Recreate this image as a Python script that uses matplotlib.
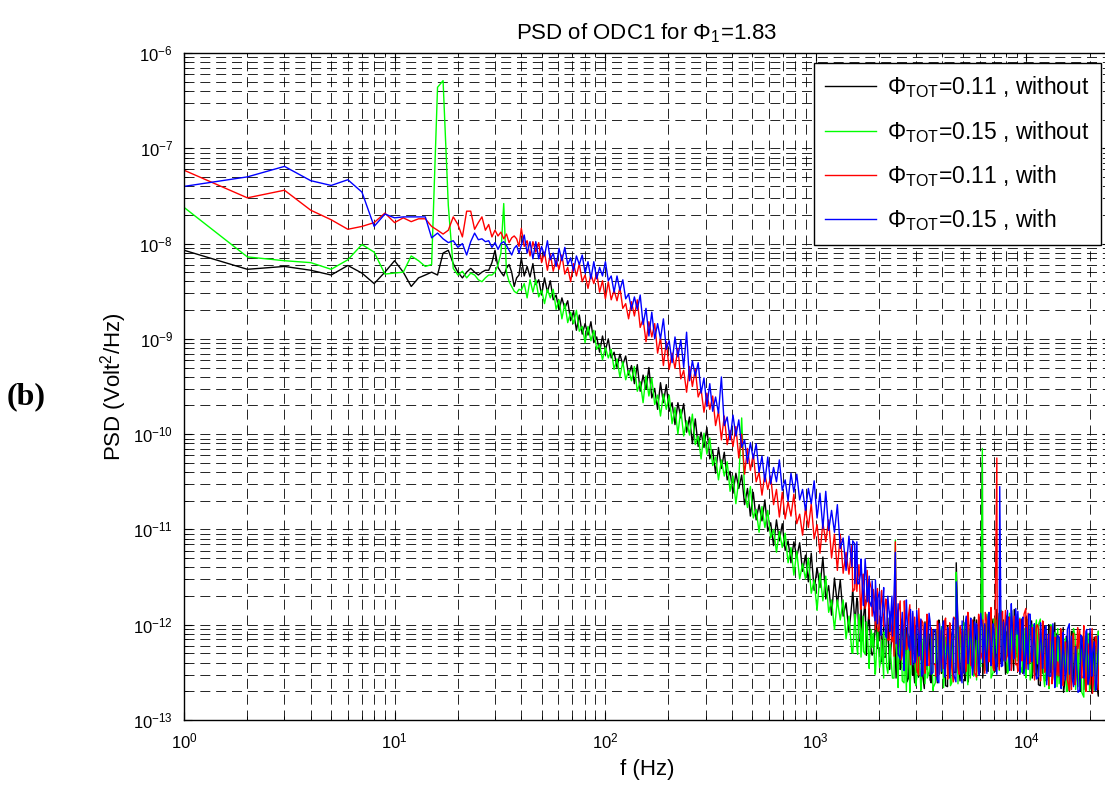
import numpy as np
import matplotlib
matplotlib.use('Agg')
import matplotlib.pyplot as plt
from matplotlib.ticker import LogLocator, NullFormatter

plt.rcParams['font.family'] = ['Liberation Sans', 'DejaVu Sans']
plt.rcParams['mathtext.fontset'] = 'custom'
plt.rcParams['mathtext.rm'] = 'Liberation Sans'
plt.rcParams['mathtext.it'] = 'Liberation Sans:italic'
plt.rcParams['mathtext.bf'] = 'Liberation Sans:bold'

# frequency axis: 1 Hz bins up to 39 Hz, a decimated log grid up to 22 kHz,
# and a second, denser set of bins for the noise floor above 1.5 kHz
f_low = np.arange(1, 40)
f_high = np.geomspace(40, 22000, 200)
f_band = np.geomspace(1500, 22000, 120)

# log10 of PSD (Volt^2/Hz)
black_low = [-8.07, -8.27, -8.24, -8.28, -8.33, -8.23, -8.31, -8.42, -8.30, -8.18,
             -8.30, -8.45, -8.36, -8.33, -8.30, -8.33, -8.10, -8.07, -8.21, -8.30,
             -8.36, -8.30, -8.26, -8.30, -8.33, -8.30, -8.28, -8.28, -8.20, -8.07,
             -8.25, -8.30, -8.34, -8.26, -8.22, -8.30, -8.45, -8.36, -8.33]
green_low = [-7.62, -8.14, -8.18, -8.20, -8.27, -8.17, -8.01, -8.09, -8.32, -8.31,
             -8.30, -8.13, -8.18, -8.24, -8.22, -6.36, -6.29, -7.60, -8.26, -8.33,
             -8.29, -8.36, -8.31, -8.33, -8.38, -8.40, -8.36, -8.33, -8.33, -8.30,
             -8.22, -8.10, -7.58, -8.30, -8.40, -8.45, -8.50, -8.52, -8.48]
red_low = [-7.23, -7.52, -7.44, -7.65, -7.75, -7.85, -7.82, -7.78, -7.68, -7.78,
           -7.73, -7.77, -7.74, -7.74, -7.82, -7.86, -7.90, -7.86, -7.72, -7.80,
           -7.93, -7.66, -7.66, -7.85, -7.78, -7.72, -7.86, -7.80, -7.93, -7.86,
           -7.92, -7.88, -7.95, -7.90, -7.99, -7.94, -7.92, -7.95, -8.03]
blue_low = [-7.40, -7.30, -7.19, -7.34, -7.39, -7.33, -7.46, -7.82, -7.69, -7.73,
            -7.72, -7.72, -7.72, -7.72, -7.94, -7.89, -7.95, -7.99, -7.97, -8.04,
            -8.00, -8.12, -7.98, -7.89, -7.96, -7.95, -7.98, -7.97, -8.04, -7.99,
            -8.06, -8.00, -7.98, -8.02, -8.07, -8.12, -8.05, -8.02, -8.10]

black_high = [
    -8.15, -8.34, -8.24, -8.35, -8.21, -8.43, -8.38, -8.54, -8.36, -8.51,
    -8.39, -8.59, -8.54, -8.70, -8.57, -8.68, -8.60, -8.81, -8.71, -8.91,
    -8.75, -8.95, -8.84, -8.96, -8.82, -9.04, -8.98, -9.14, -8.97, -9.12,
    -9.00, -9.20, -9.14, -9.30, -9.16, -9.27, -9.18, -9.38, -9.28, -9.47,
    -9.27, -9.55, -9.38, -9.53, -9.30, -9.62, -9.52, -9.74, -9.46, -9.67,
    -9.48, -9.76, -9.67, -9.90, -9.67, -9.83, -9.68, -9.98, -9.82, -10.10,
    -9.84, -10.13, -9.98, -10.14, -9.93, -10.26, -10.17, -10.41, -10.14, -10.36,
    -10.19, -10.48, -10.39, -10.62, -10.41, -10.57, -10.43, -10.74, -10.57, -10.86,
    -10.61, -10.90, -10.74, -10.91, -10.69, -11.02, -10.93, -11.17, -10.90, -11.12,
    -10.94, -11.22, -11.12, -11.35, -11.13, -11.29, -11.14, -11.44, -11.27, -11.55,
    -11.25, -11.64, -11.40, -11.61, -11.29, -11.73, -11.59, -11.90, -11.51, -11.79,
    -11.53, -11.91, -11.77, -12.08, -11.77, -11.98, -11.76, -12.17, -11.93, -12.32,
    -11.95, -12.32, -12.06, -12.25, -11.92, -12.34, -12.18, -12.47, -12.06, -12.33,
    -11.96, -12.45, -12.21, -12.60, -12.12, -12.37, -12.02, -12.55, -12.17, -12.67,
    -12.09, -12.58, -12.20, -12.44, -11.95, -12.51, -12.27, -12.65, -12.06, -12.41,
    -11.35, -12.47, -12.21, -12.59, -12.09, -12.33, -11.97, -12.49, -12.10, -10.30,
    -12.01, -12.49, -12.10, -12.34, -11.84, -12.40, -12.14, -12.52, -11.92, -12.26,
    -11.84, -12.34, -12.11, -12.51, -12.04, -12.30, -11.96, -12.50, -12.13, -12.64,
    -12.09, -12.59, -12.21, -12.46, -11.98, -12.55, -12.31, -12.71, -12.12, -12.48,
    -12.07, -12.56, -12.31, -12.70, -12.21, -12.46, -12.11, -12.64, -12.26, -12.75]

green_high = [
    -8.49, -8.42, -8.57, -8.38, -8.51, -8.38, -8.56, -8.49, -8.63, -8.48,
    -8.57, -8.48, -8.69, -8.59, -8.79, -8.63, -8.83, -8.72, -8.84, -8.70,
    -8.92, -8.87, -9.04, -8.87, -9.02, -8.91, -9.11, -9.06, -9.22, -9.09,
    -9.20, -9.11, -9.32, -9.21, -9.40, -9.24, -9.43, -9.33, -9.44, -9.29,
    -9.55, -9.45, -9.67, -9.39, -9.60, -9.41, -9.69, -9.59, -9.81, -9.58,
    -9.74, -9.59, -9.89, -9.72, -10.00, -9.74, -10.02, -9.86, -10.01, -9.79,
    -10.11, -10.02, -10.26, -9.99, -10.21, -10.04, -10.33, -10.24, -10.48, -10.27,
    -10.44, -10.29, -10.60, -10.44, -10.73, -10.48, -9.83, -10.61, -10.77, -10.55,
    -10.88, -10.79, -11.03, -10.76, -10.98, -10.80, -11.09, -11.00, -11.24, -11.02,
    -11.19, -11.04, -11.35, -11.19, -11.48, -11.23, -11.52, -11.36, -11.52, -11.30,
    -11.67, -11.53, -11.85, -11.46, -11.75, -11.49, -11.87, -11.74, -12.05, -11.74,
    -11.95, -11.74, -12.15, -11.91, -12.29, -11.93, -12.31, -12.07, -12.28, -11.97,
    -12.40, -12.24, -12.52, -12.11, -12.37, -12.08, -12.44, -12.28, -12.56, -11.11,
    -12.43, -12.08, -12.61, -12.22, -12.71, -12.15, -12.64, -12.26, -12.50, -12.01,
    -12.56, -12.31, -12.69, -12.10, -12.44, -12.02, -12.51, -12.26, -12.64, -12.15,
    -11.45, -12.03, -12.55, -12.15, -12.63, -12.06, -12.54, -12.15, -12.38, -10.15,
    -12.43, -12.18, -12.56, -11.95, -12.30, -11.87, -12.35, -12.10, -12.48, -11.98,
    -12.22, -11.89, -12.43, -12.06, -12.56, -12.02, -12.52, -12.15, -12.41, -11.94,
    -12.51, -12.28, -12.67, -12.09, -12.45, -12.04, -12.54, -12.30, -12.70, -12.22,
    -12.47, -12.12, -12.65, -12.27, -12.76, -12.20, -12.69, -12.31, -12.56, -12.07]

red_high = [
    -7.84, -8.03, -7.97, -8.13, -7.98, -8.09, -7.99, -8.20, -8.09, -8.28,
    -8.11, -8.29, -8.17, -8.27, -8.12, -8.32, -8.25, -8.40, -8.21, -8.34,
    -8.21, -8.40, -8.33, -8.47, -8.32, -8.42, -8.31, -8.51, -8.39, -8.58,
    -8.40, -8.59, -8.49, -8.60, -8.46, -8.68, -8.63, -8.79, -8.61, -8.76,
    -8.59, -8.88, -8.79, -9.03, -8.82, -8.98, -8.84, -9.15, -8.99, -9.28,
    -9.03, -9.32, -9.15, -9.31, -9.10, -9.42, -9.33, -9.56, -9.29, -9.50,
    -9.32, -9.61, -9.53, -9.77, -9.57, -9.74, -9.60, -9.91, -9.76, -10.06,
    -9.81, -10.11, -9.96, -10.13, -9.92, -10.25, -10.00, -10.42, -10.15, -10.38,
    -10.21, -10.50, -10.40, -10.64, -10.42, -10.58, -10.44, -10.74, -10.58, -10.87,
    -10.61, -10.89, -10.71, -10.86, -10.63, -10.94, -10.84, -11.06, -10.78, -10.98,
    -10.73, -11.10, -10.95, -11.25, -10.93, -11.13, -10.90, -11.30, -11.05, -11.43,
    -11.05, -11.46, -11.24, -11.47, -11.17, -11.63, -11.51, -11.84, -11.47, -11.77,
    -11.53, -11.91, -11.77, -12.07, -11.76, -11.97, -11.75, -12.16, -11.91, -11.13,
    -11.87, -12.37, -12.00, -12.26, -11.79, -12.36, -12.13, -12.53, -11.95, -12.31,
    -11.91, -12.40, -12.16, -12.54, -12.06, -12.31, -11.96, -12.49, -12.10, -12.60,
    -12.04, -12.52, -12.13, -12.37, -11.87, -12.43, -12.17, -12.55, -11.95, -12.29,
    -11.87, -12.35, -12.10, -12.48, -10.25, -12.22, -11.86, -12.38, -11.99, -12.48,
    -11.91, -12.42, -12.05, -12.31, -11.83, -12.41, -12.18, -12.58, -12.00, -12.37,
    -11.97, -12.46, -12.22, -12.62, -12.13, -12.39, -12.04, -12.57, -12.20, -12.69,
    -12.14, -12.63, -12.25, -12.50, -12.01, -12.58, -12.33, -12.72, -12.13, -12.48]

blue_high = [
    -8.02, -7.91, -8.10, -7.98, -8.16, -7.98, -8.16, -8.03, -8.13, -7.97,
    -8.17, -8.10, -8.24, -8.05, -8.18, -8.04, -8.22, -8.15, -8.29, -8.13,
    -8.22, -8.12, -8.31, -8.19, -8.37, -8.19, -8.37, -8.25, -8.34, -8.19,
    -8.39, -8.34, -8.51, -8.34, -8.49, -8.38, -8.58, -8.53, -8.69, -8.56,
    -8.69, -8.54, -8.85, -8.68, -8.97, -8.72, -9.00, -8.84, -9.00, -8.79,
    -9.11, -9.02, -9.25, -8.98, -9.19, -9.01, -9.30, -8.93, -9.44, -9.23,
    -9.39, -9.25, -9.57, -9.41, -9.71, -9.47, -9.76, -9.61, -9.78, -9.40,
    -9.91, -9.82, -10.06, -9.80, -10.02, -9.85, -10.14, -10.06, -10.30, -10.09,
    -10.26, -10.10, -10.40, -10.23, -10.50, -10.24, -10.52, -10.35, -10.50, -10.27,
    -10.59, -10.48, -10.70, -10.41, -10.61, -10.42, -10.69, -10.58, -10.80, -10.57,
    -10.73, -10.49, -10.88, -10.62, -10.99, -10.60, -11.01, -10.80, -11.03, -10.74,
    -11.20, -11.09, -11.43, -11.07, -11.39, -11.15, -11.57, -11.46, -11.80, -11.51,
    -11.75, -11.54, -11.96, -11.72, -12.11, -11.75, -12.14, -11.91, -12.12, -11.24,
    -12.31, -12.08, -12.48, -11.90, -12.27, -11.86, -12.37, -12.14, -12.54, -12.06,
    -12.32, -11.97, -12.50, -12.12, -12.61, -12.06, -12.55, -12.17, -12.41, -11.93,
    -11.55, -12.24, -12.61, -12.01, -12.35, -11.93, -12.41, -12.15, -12.53, -12.03,
    -12.27, -11.91, -12.43, -12.04, -12.52, -10.55, -12.43, -12.04, -12.28, -11.78,
    -12.33, -12.10, -12.50, -11.92, -12.29, -11.89, -12.39, -12.16, -12.56, -12.09,
    -12.35, -12.01, -12.54, -12.16, -12.66, -12.11, -12.60, -12.22, -12.48, -11.99,
    -12.56, -12.32, -12.71, -12.11, -12.47, -12.05, -12.54, -12.30, -12.69, -12.20]

black_band = [
    -11.62, -12.02, -11.72, -12.17, -11.81, -12.17, -11.74, -12.11, -11.83, -12.29,
    -12.28, -11.86, -12.24, -11.94, -12.39, -12.00, -12.34, -11.93, -12.42, -12.08,
    -12.02, -12.56, -11.97, -12.47, -11.94, -12.42, -12.03, -12.56, -12.14, -12.53,
    -12.61, -12.05, -12.49, -11.99, -12.55, -11.97, -12.47, -12.10, -12.61, -12.05,
    -12.08, -12.61, -11.98, -12.51, -12.11, -12.64, -12.01, -12.53, -12.13, -12.50,
    -12.50, -12.03, -12.59, -12.11, -12.51, -11.97, -12.60, -12.00, -12.46, -11.92,
    -11.95, -12.44, -12.01, -12.56, -12.05, -12.48, -11.88, -12.33, -11.94, -12.49,
    -12.44, -11.88, -12.35, -11.95, -12.51, -11.98, -12.41, -11.85, -12.48, -12.01,
    -11.98, -12.52, -11.94, -12.44, -11.92, -12.41, -12.02, -12.56, -12.14, -12.54,
    -12.63, -12.08, -12.51, -12.02, -12.58, -12.00, -12.50, -12.14, -12.64, -12.09,
    -12.13, -12.66, -12.03, -12.57, -12.17, -12.70, -12.07, -12.60, -12.21, -12.58,
    -12.58, -12.12, -12.68, -12.21, -12.62, -12.09, -12.72, -12.13, -12.60, -12.07]

green_band = [
    -12.30, -11.89, -12.24, -11.89, -12.34, -11.91, -12.31, -12.05, -12.46, -12.05,
    -12.09, -12.51, -12.04, -12.45, -12.16, -12.56, -12.09, -12.51, -12.21, -12.50,
    -12.56, -12.10, -12.66, -12.19, -12.59, -12.06, -12.69, -12.10, -12.56, -12.03,
    -12.06, -12.56, -12.13, -12.69, -12.19, -12.62, -12.03, -12.49, -12.10, -12.66,
    -12.61, -12.05, -12.51, -12.11, -12.66, -12.13, -12.55, -11.99, -12.61, -12.14,
    -12.10, -12.62, -12.03, -12.51, -11.98, -12.44, -12.04, -12.56, -12.13, -12.51,
    -12.58, -12.01, -12.44, -11.93, -12.48, -11.89, -12.38, -12.00, -12.50, -11.93,
    -11.95, -12.48, -11.85, -12.38, -11.98, -12.51, -11.88, -12.41, -12.01, -12.38,
    -12.38, -11.93, -12.50, -12.04, -12.45, -11.94, -12.58, -12.00, -12.47, -11.95,
    -12.00, -12.51, -12.08, -12.65, -12.15, -12.59, -12.00, -12.47, -12.08, -12.65,
    -12.62, -12.06, -12.53, -12.14, -12.70, -12.17, -12.60, -12.04, -12.68, -12.21,
    -12.18, -12.71, -12.12, -12.62, -12.09, -12.56, -12.16, -12.69, -12.27, -12.66]

red_band = [
    -11.65, -11.25, -11.65, -11.37, -11.83, -11.47, -11.83, -11.43, -11.94, -11.62,
    -11.63, -12.05, -11.62, -12.03, -11.64, -12.02, -11.73, -12.16, -11.86, -12.18,
    -12.33, -11.79, -12.23, -11.75, -12.32, -11.75, -12.26, -11.91, -12.42, -11.88,
    -11.92, -12.46, -11.83, -12.37, -11.98, -12.51, -11.89, -12.43, -12.03, -12.41,
    -12.42, -11.96, -12.52, -12.06, -12.46, -11.93, -12.57, -11.98, -12.45, -11.92,
    -11.95, -12.45, -12.01, -12.56, -12.06, -12.49, -11.89, -12.35, -11.95, -12.50,
    -12.46, -11.89, -12.36, -11.95, -12.51, -11.97, -12.39, -11.82, -12.45, -11.97,
    -11.94, -12.47, -11.88, -12.37, -11.85, -12.32, -11.92, -12.45, -12.03, -12.42,
    -12.49, -11.94, -12.38, -11.89, -12.46, -11.88, -12.39, -12.03, -12.56, -12.01,
    -12.05, -12.59, -11.96, -12.50, -12.10, -12.64, -12.02, -12.55, -12.15, -12.53,
    -12.54, -12.08, -12.64, -12.18, -12.58, -12.05, -12.68, -12.09, -12.56, -12.03,
    -12.06, -12.56, -12.13, -12.70, -12.20, -12.63, -12.04, -12.50, -12.12, -12.68]

blue_band = [
    -11.12, -11.57, -11.13, -11.57, -11.31, -11.75, -11.31, -11.76, -11.49, -11.81,
    -11.85, -11.53, -11.99, -11.65, -11.99, -11.61, -12.12, -11.70, -12.07, -11.70,
    -11.68, -12.20, -11.78, -12.36, -11.87, -12.32, -11.74, -12.22, -11.84, -12.42,
    -12.40, -11.85, -12.33, -11.94, -12.51, -11.99, -12.43, -11.88, -12.52, -12.06,
    -12.05, -12.58, -11.99, -12.49, -11.96, -12.43, -12.03, -12.56, -12.14, -12.53,
    -12.60, -12.04, -12.46, -11.96, -12.51, -11.91, -12.41, -12.03, -12.53, -11.97,
    -11.99, -12.51, -11.88, -12.40, -11.99, -12.51, -11.87, -12.39, -11.99, -12.35,
    -12.34, -11.88, -12.44, -11.97, -12.38, -11.85, -12.48, -11.89, -12.36, -11.83,
    -11.86, -12.37, -11.95, -12.52, -12.03, -12.47, -11.89, -12.36, -11.99, -12.57,
    -12.54, -11.98, -12.46, -12.06, -12.63, -12.10, -12.54, -11.99, -12.63, -12.16,
    -12.14, -12.67, -12.08, -12.58, -12.05, -12.52, -12.12, -12.65, -12.23, -12.62,
    -12.69, -12.13, -12.56, -12.07, -12.63, -12.04, -12.54, -12.18, -12.68, -12.12]

labels = [r'$\Phi_{\mathrm{TOT}}$=0.11 , without',
          r'$\Phi_{\mathrm{TOT}}$=0.15 , without',
          r'$\Phi_{\mathrm{TOT}}$=0.11 , with',
          r'$\Phi_{\mathrm{TOT}}$=0.15 , with']
colors = ['#000000', '#00ff00', '#ff0000', '#0000ff']

freq = np.concatenate([f_low, f_high, f_band])
order = np.argsort(freq, kind='stable')
series = [(black_low, black_high, black_band), (green_low, green_high, green_band),
          (red_low, red_high, red_band), (blue_low, blue_high, blue_band)]

fig = plt.figure(figsize=(11.05, 7.85), dpi=100)
ax = fig.add_axes([184 / 1105, 1 - 720 / 785, (1110 - 184) / 1105, (720 - 53) / 785])

for (lo, hi, bd), c, lab in zip(series, colors, labels):
    psd = 10.0 ** np.concatenate([lo, hi, bd])
    ax.loglog(freq[order], psd[order], color=c, lw=1.0, label=lab)

ax.set_xlim(1, 2.5e4)
ax.set_ylim(1e-13, 1e-6)

for axis in (ax.xaxis, ax.yaxis):
    axis.set_major_locator(LogLocator(base=10, numticks=30))
    axis.set_minor_locator(LogLocator(base=10, subs=np.arange(2, 10), numticks=30))
    axis.set_minor_formatter(NullFormatter())

ax.grid(True, which='both', color='k', lw=0.6, linestyle=(0, (12, 7)))
ax.tick_params(which='both', direction='in', top=True, right=True, labelsize=12)
ax.tick_params(which='major', length=6, pad=8)
ax.tick_params(which='minor', length=3)
for s in ax.spines.values():
    s.set_linewidth(1.0)

ax.set_title(r'PSD of ODC1 for $\Phi_1$=1.83', fontsize=16, pad=10)
ax.set_xlabel('f (Hz)', fontsize=16, labelpad=6)
ax.set_ylabel(r'PSD (Volt$^2$/Hz)', fontsize=16, labelpad=3)

leg = ax.legend(loc='upper right', bbox_to_anchor=(1101 / 1105, 1 - 63 / 785),
                bbox_transform=fig.transFigure, fontsize=16.5, fancybox=False,
                edgecolor='k', framealpha=1, handlelength=2.2, borderaxespad=0,
                labelspacing=0.8, borderpad=0.5, handletextpad=0.5)
leg.get_frame().set_linewidth(1.0)

fig.text(0.006, 0.494, '(b)', fontsize=23, fontweight='bold',
         family=['Liberation Serif', 'DejaVu Serif'], va='center', ha='left')

fig.savefig('out.png', dpi=100)
